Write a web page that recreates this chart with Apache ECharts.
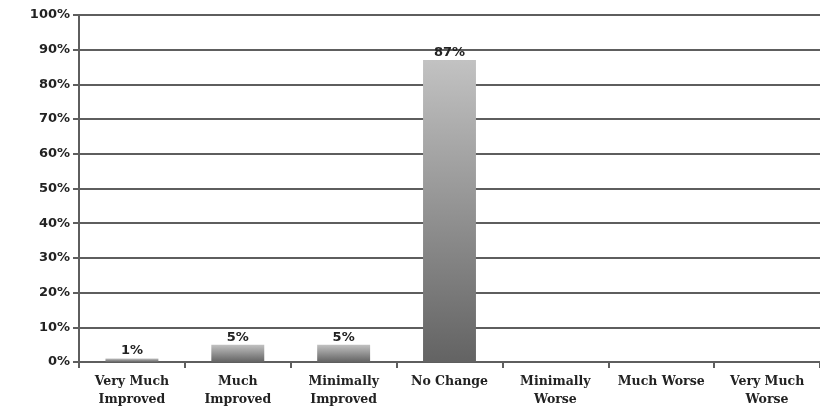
<!DOCTYPE html>
<html>
<head>
<meta charset="utf-8">
<script src="https://cdn.jsdelivr.net/npm/echarts@6/dist/echarts.min.js"></script>
<style>
  html, body { margin: 0; padding: 0; background: #fff; }
  #chart { width: 820px; height: 409px; }
</style>
</head>
<body>
<div id="chart"></div>
<script>
// Response categories along the x axis
const categories = [
  'Very Much\nImproved', 'Much\nImproved', 'Minimally\nImproved', 'No Change',
  'Minimally\nWorse', 'Much Worse', 'Very Much\nWorse'
];
// Share of responses, percent
const percentValues = [1, 5, 5, 87, null, null, null];
// Value axis ticks
const yMin = 0, yMax = 100, yStep = 10;

const chart = echarts.init(document.getElementById('chart'));

const barFill = new echarts.graphic.LinearGradient(0, 0, 0, 1, [
  { offset: 0, color: '#c2c2c2' },
  { offset: 1, color: '#636363' }
]);

chart.setOption({
  animation: false,
  grid: { left: 79, top: 15, width: 744, height: 347, containLabel: false },
  xAxis: {
    type: 'category',
    data: categories,
    axisLine: { lineStyle: { color: '#5e5e5e', width: 2 } },
    axisTick: { show: true, length: 6, inside: false, lineStyle: { color: '#5e5e5e', width: 2 } },
    axisLabel: {
      interval: 0, margin: 11,
      fontFamily: 'DejaVu Serif', fontWeight: 'bold', fontSize: 12.5, color: '#222', lineHeight: 18
    },
    splitLine: { show: false }
  },
  yAxis: {
    type: 'value',
    min: yMin, max: yMax, interval: yStep,
    axisLine: { show: true, lineStyle: { color: '#5e5e5e', width: 2 } },
    axisTick: { show: true, length: 6, lineStyle: { color: '#5e5e5e', width: 2 } },
    axisLabel: {
      formatter: '{value}%', margin: 9,
      fontFamily: 'DejaVu Sans', fontWeight: 'bold', fontSize: 13, color: '#222'
    },
    splitLine: { show: true, lineStyle: { color: '#5e5e5e', width: 2 } }
  },
  series: [{
    type: 'bar',
    data: percentValues,
    barWidth: '50%',
    itemStyle: { color: barFill },
    label: {
      show: true, position: 'top', distance: 1,
      formatter: p => p.value == null ? '' : p.value + '%',
      fontFamily: 'DejaVu Sans', fontWeight: 'bold', fontSize: 13, color: '#222'
    }
  }]
});
</script>
</body>
</html>
